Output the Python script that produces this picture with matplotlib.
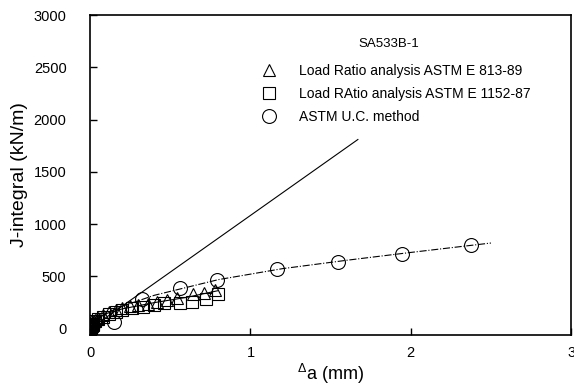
import numpy as np
import matplotlib
matplotlib.use('Agg')
import matplotlib.pyplot as plt

plt.rcParams['font.family'] = ['Liberation Sans', 'DejaVu Sans']

# data
tri_x = [0.0, 0.003, 0.006, 0.01, 0.015, 0.02, 0.03, 0.04, 0.05, 0.08, 0.12, 0.16, 0.2, 0.25, 0.3, 0.36, 0.42, 0.48, 0.54, 0.64, 0.71, 0.78]
tri_y = [0, 10, 25, 40, 50, 60, 80, 90, 100, 130, 160, 180, 195, 215, 225, 240, 255, 275, 295, 335, 345, 370]

sq_x = [0.0, 0.003, 0.006, 0.01, 0.015, 0.02, 0.03, 0.05, 0.08, 0.12, 0.16, 0.2, 0.26, 0.33, 0.4, 0.46, 0.56, 0.635, 0.72, 0.8]
sq_y = [0, 8, 15, 30, 40, 50, 70, 90, 115, 140, 165, 180, 200, 210, 225, 245, 250, 260, 280, 335]

circ_x = [0.0, 0.01, 0.03, 0.146, 0.323, 0.5625, 0.79, 1.167, 1.544, 1.948, 2.375]
circ_y = [0, 30, 60, 65, 280, 390, 470, 567, 641, 718, 798]

# fitted lines (read as points)
blunt_x = [0.0, 1.67]
blunt_y = [0, 1810]

ucfit_x = [0.05, 0.1, 0.2, 0.4, 0.8, 1.2, 1.6, 2.0, 2.5]
ucfit_y = [105, 150, 215, 320, 470, 575, 655, 730, 820]

lrfit_x = [0.0, 0.02, 0.05, 0.1, 0.2, 0.4, 0.6, 0.8]
lrfit_y = [0, 60, 100, 145, 190, 250, 300, 365]

labels = ['Load Ratio analysis ASTM E 813-89',
          'Load RAtio analysis ASTM E 1152-87',
          'ASTM U.C. method']

fig = plt.figure(figsize=(5.74, 3.86), dpi=100)
ax = fig.add_axes([0.157, 0.132, 0.838, 0.829])

ax.plot(blunt_x, blunt_y, color='black', lw=0.8)
ax.plot(ucfit_x, ucfit_y, color='black', lw=0.8, ls='-.')
ax.plot(lrfit_x, lrfit_y, color='black', lw=0.8)

ms = 9
h1, = ax.plot(tri_x, tri_y, ls='none', marker='^', ms=ms, mfc='none', mec='black', mew=0.8, label=labels[0])
h2, = ax.plot(sq_x, sq_y, ls='none', marker='s', ms=ms, mfc='none', mec='black', mew=0.8, label=labels[1])
h3, = ax.plot(circ_x, circ_y, ls='none', marker='o', ms=ms + 1, mfc='none', mec='black', mew=0.8, label=labels[2])

ax.set_xlim(0, 3)
ax.set_ylim(-60, 3000)
ax.set_xticks([0, 1, 2, 3])
ax.set_yticks([0, 500, 1000, 1500, 2000, 2500, 3000])
ax.tick_params(direction='in', labelsize=10.5, length=5, width=1)
ax.tick_params(axis='y', pad=17)
ax.tick_params(axis='x', pad=8)
for s in ax.spines.values():
    s.set_linewidth(1.2)

ax.set_ylabel('J-integral (kN/m)', fontsize=14, labelpad=4)
ax.set_xlabel(r'$\mathregular{^{\Delta}}$a (mm)', fontsize=13, labelpad=1)

ax.text(0.62, 0.91, 'SA533B-1', transform=ax.transAxes, ha='center', va='center', fontsize=9.5)
ax.legend(handles=[h1, h2, h3], loc='upper left',
          bbox_to_anchor=(0.35, 0.846), frameon=False, fontsize=10,
          borderpad=0, borderaxespad=0, labelspacing=0.62,
          handletextpad=1.4, handlelength=1.5)

fig.savefig('out.png', dpi=100)
